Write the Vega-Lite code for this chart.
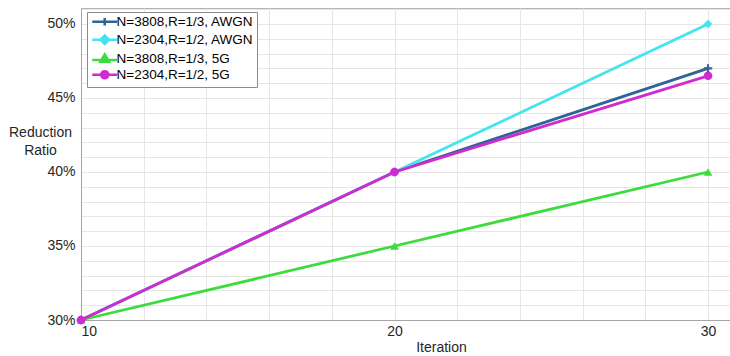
{
  "$schema": "https://vega.github.io/schema/vega-lite/v6.json",
  "width": 649,
  "height": 312,
  "autosize": {"type": "none"},
  "padding": {"left": 81, "top": 8, "right": 0, "bottom": 36},
  "background": "white",
  "config": {
    "font": "Liberation Sans",
    "view": {"stroke": "#b4b4b4", "strokeWidth": 1},
    "axis": {"labelColor": "#262626", "titleColor": "#262626", "labelFont": "Liberation Sans", "titleFont": "Liberation Sans", "labelFontSize": 14, "titleFontSize": 14, "titleFontWeight": "normal", "gridColor": "#e6e6e6", "gridWidth": 1, "domainColor": "#a6a6a6", "ticks": false}
  },
  "data": {
    "values": [
      {"series": "N=3808,R=1/3, AWGN", "iter": 10, "ratio": 0.30},
      {"series": "N=3808,R=1/3, AWGN", "iter": 20, "ratio": 0.40},
      {"series": "N=3808,R=1/3, AWGN", "iter": 30, "ratio": 0.470},
      {"series": "N=2304,R=1/2, AWGN", "iter": 10, "ratio": 0.30},
      {"series": "N=2304,R=1/2, AWGN", "iter": 20, "ratio": 0.40},
      {"series": "N=2304,R=1/2, AWGN", "iter": 30, "ratio": 0.50},
      {"series": "N=3808,R=1/3, 5G", "iter": 10, "ratio": 0.30},
      {"series": "N=3808,R=1/3, 5G", "iter": 20, "ratio": 0.35},
      {"series": "N=3808,R=1/3, 5G", "iter": 30, "ratio": 0.40},
      {"series": "N=2304,R=1/2, 5G", "iter": 10, "ratio": 0.30},
      {"series": "N=2304,R=1/2, 5G", "iter": 20, "ratio": 0.40},
      {"series": "N=2304,R=1/2, 5G", "iter": 30, "ratio": 0.465}
    ]
  },
  "encoding": {
    "x": {
      "field": "iter", "type": "quantitative",
      "scale": {"domain": [10, 30.7], "nice": false, "zero": false},
      "axis": {
        "title": "Iteration",
        "values": [10, 12, 14, 16, 18, 20, 22, 24, 26, 28, 30],
        "labelExpr": "datum.value % 10 === 0 ? datum.value : ''",
        "labelPadding": 4,
        "titleX": 360,
        "titlePadding": 2
      }
    },
    "y": {
      "field": "ratio", "type": "quantitative",
      "scale": {"domain": [0.30, 0.5108], "nice": false, "zero": false},
      "axis": {
        "title": ["Reduction", "Ratio"],
        "values": [0.30, 0.31, 0.32, 0.33, 0.34, 0.35, 0.36, 0.37, 0.38, 0.39, 0.40, 0.41, 0.42, 0.43, 0.44, 0.45, 0.46, 0.47, 0.48, 0.49, 0.50, 0.51],
        "labelExpr": "round(datum.value * 100) % 5 === 0 ? format(datum.value, '.0%') : ''",
        "labelPadding": 6,
        "titleAngle": 0,
        "titleAlign": "center",
        "titleBaseline": "top",
        "titleX": -41,
        "titleY": 117,
        "titleLineHeight": 18
      }
    },
    "color": {
      "field": "series", "type": "nominal",
      "scale": {"domain": ["N=3808,R=1/3, AWGN", "N=2304,R=1/2, AWGN", "N=3808,R=1/3, 5G", "N=2304,R=1/2, 5G"], "range": ["#2e6496", "#45e3ef", "#3bdc3b", "#d12ad1"]},
      "legend": {
        "title": null, "orient": "none", "legendX": 6, "legendY": 4,
        "symbolSize": 100, "symbolOffset": 8, "labelOffset": 5,
        "labelFontSize": 13.5, "labelColor": "#000000", "labelFont": "Liberation Sans",
        "fillColor": "white", "strokeColor": "#8c8c8c", "padding": 3, "rowPadding": -1,
        "encode": {
          "symbols": {
            "update": {
              "shape": {"signal": "datum.value === 'N=3808,R=1/3, AWGN' ? 'M-2.5,0H2.5M0,-0.75V0.75' : datum.value === 'N=2304,R=1/2, AWGN' ? 'M-2.5,0H2.5M-0.85,0L0,-0.85L0.85,0L0,0.85Z' : datum.value === 'N=3808,R=1/3, 5G' ? 'M-2.5,0.25H2.5M-0.85,0.6L0,-0.85L0.85,0.6Z' : 'M-2.5,0H2.5M-0.7,0A0.7,0.7 0 1,0 0.7,0A0.7,0.7 0 1,0 -0.7,0Z'"},
              "fill": {"scale": "color", "field": "value"},
              "stroke": {"scale": "color", "field": "value"},
              "strokeWidth": {"value": 2.6},
              "opacity": {"value": 1},
              "fillOpacity": {"value": 1}
            }
          }
        }
      }
    }
  },
  "layer": [
    {
      "mark": {"type": "line", "strokeWidth": 2.8}
    },
    {
      "transform": [{"filter": {"field": "series", "equal": "N=3808,R=1/3, AWGN"}}],
      "mark": {"type": "point", "filled": false, "shape": "M-1,0H1M0,-1V1", "size": 70, "opacity": 1, "strokeWidth": 2.2}
    },
    {
      "transform": [{"filter": {"field": "series", "equal": "N=2304,R=1/2, AWGN"}}],
      "mark": {"type": "point", "filled": true, "shape": "diamond", "size": 75, "opacity": 1}
    },
    {
      "transform": [{"filter": {"field": "series", "equal": "N=3808,R=1/3, 5G"}}],
      "mark": {"type": "point", "filled": true, "shape": "triangle-up", "size": 75, "opacity": 1}
    },
    {
      "transform": [{"filter": {"field": "series", "equal": "N=2304,R=1/2, 5G"}}],
      "mark": {"type": "point", "filled": true, "shape": "circle", "size": 75, "opacity": 1}
    }
  ]
}
